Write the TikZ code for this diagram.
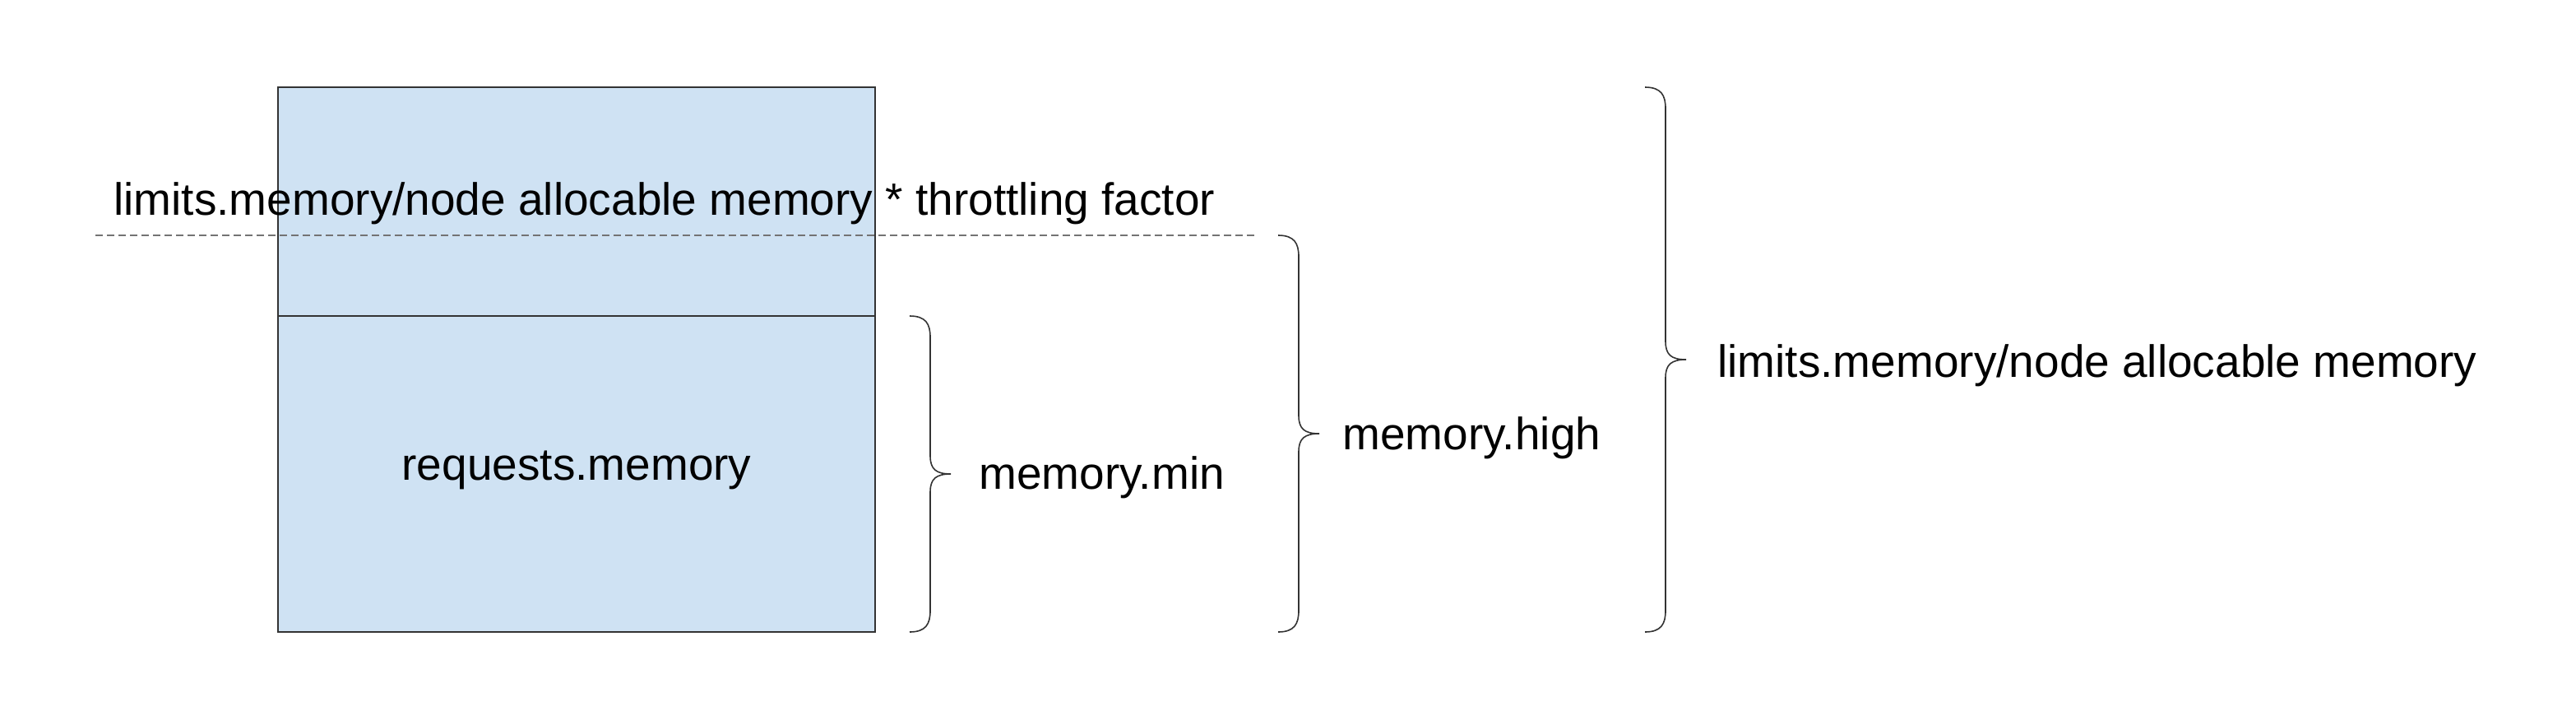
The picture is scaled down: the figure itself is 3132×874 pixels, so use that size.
\documentclass[tikz,border=0pt]{standalone}
\usepackage{fontspec}
\setmainfont{Liberation Sans}
\definecolor{boxblue}{HTML}{CFE2F3}
\definecolor{dashgray}{HTML}{737373}
\newcommand\drawrbrace[3]{%
  \draw[bracestyle]
    ({#1},{#2}) .. controls ({#1+20},{#2}) and ({#1+25},{#2+10}) .. ({#1+25},{#2+26})
    -- ({#1+25},{(#2+#3)/2-22})
    .. controls ({#1+25},{(#2+#3)/2-6}) and ({#1+32},{(#2+#3)/2}) .. ({#1+50},{(#2+#3)/2})
    .. controls ({#1+32},{(#2+#3)/2}) and ({#1+25},{(#2+#3)/2+6}) .. ({#1+25},{(#2+#3)/2+22})
    -- ({#1+25},{#3-26})
    .. controls ({#1+25},{#3-10}) and ({#1+20},{#3}) .. ({#1},{#3});}
\begin{document}
\begin{tikzpicture}[x=0.5pt,y=-0.5pt,
  lbl/.style={font=\fontsize{27.5}{33}\selectfont, inner sep=0pt, anchor=base west},
  part/.style={draw=black!80, line width=0.9pt, fill=boxblue, inner sep=0pt, outer sep=0pt, minimum width=363pt},
  bracestyle/.style={draw=black!80, line width=0.8pt},
  guide/.style={draw=dashgray, line width=0.7pt, dash pattern=on 4.5pt off 2.5pt}]
\useasboundingbox (0,0) rectangle (3132,874);
\node[part, minimum height=139pt] (upper) at (701,245) {};
\node[part, minimum height=192pt] (lower) at (701,576) {};
\node[lbl, anchor=base] (req) at (701,583) {requests.memory};
\coordinate (dl) at (116,286);
\coordinate (dr) at (1526,286);
\draw[guide] (dl) -- (dr);
\node[lbl] (thr) at (138,261) {limits.memory/node allocable memory * throttling factor};
\drawrbrace{1106}{384}{768}
\drawrbrace{1554}{286}{768}
\drawrbrace{2000}{106}{768}
\node[lbl] (min) at (1190,594) {memory.min};
\node[lbl] (high) at (1632,546) {memory.high};
\node[lbl] (lim) at (2088,458) {limits.memory/node allocable memory};
\end{tikzpicture}
\end{document}
